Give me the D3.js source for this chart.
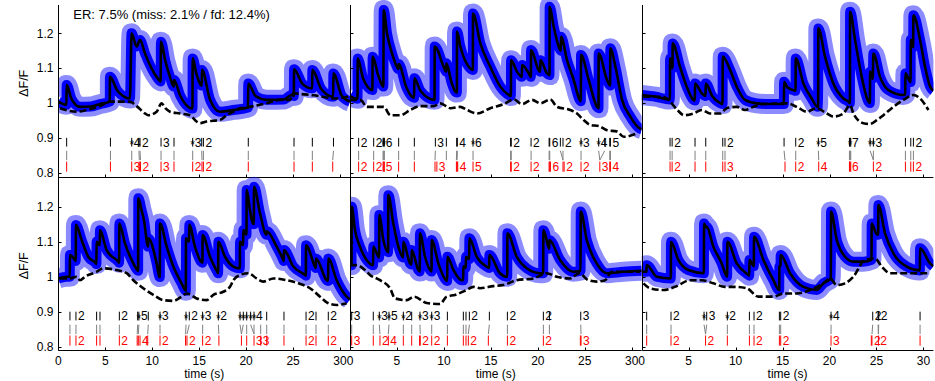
<!DOCTYPE html>
<html><head><meta charset="utf-8">
<script src="https://cdn.jsdelivr.net/npm/d3@7"></script>
<style>
body{margin:0;background:#fff}
svg{display:block}
text{font-family:"Liberation Sans",Arial,Helvetica,sans-serif}
</style>
</head><body>
<svg id="chart" width="935" height="381"></svg>
<script>
// ---------- tick labels ----------
const xTicks = [0, 5, 10, 15, 20, 25, 30];
const yTicks = [0.8, 0.9, 1.0, 1.1, 1.2];
const yTickLabels = ["0.8", "0.9", "1", "1.1", "1.2"];
const xLabel = "time (s)";
const yLabel = "\u0394F/F";
const errorText = "ER: 7.5% (miss: 2.1% / fd: 12.4%)";
const timeMax = 31.06;

// ---------- panel 1 (top-left) ----------
const fit1 = [[0,1.004],[0.87,0.995],[0.89,1.052],[1.4,1.012],[2.31,0.989],[3.5,0.99],[4.44,0.997],[5.48,1.004],[5.5,1.075],[6.3,1.035],[7.63,1.013],[7.8,1.2],[8.34,1.162],[8.7,1.181],[9.23,1.142],[10.47,1.075],[10.9,1.062],[10.93,1.176],[11.4,1.12],[11.89,1.075],[12.3,1.047],[12.32,1.066],[13.0,1.02],[14.09,0.985],[14.29,0.984],[14.31,1.128],[14.7,1.085],[15.28,1.05],[15.3,1.095],[16.15,1.01],[17.22,0.975],[18.64,0.98],[20.2,0.987],[20.23,1.056],[21.0,1.02],[22.19,1.009],[24.0,1.01],[24.85,1.023],[25.08,1.02],[25.1,1.097],[26.0,1.055],[27.03,1.042],[27.05,1.095],[28.0,1.04],[29.27,1.018],[29.29,1.085],[30.2,1.02],[31.06,1.004]];
const base1 = [[0.18,0.985],[1.95,0.975],[3.02,0.98],[4.44,0.991],[5.5,1.004],[7.63,1.004],[8.34,0.991],[9.23,0.97],[9.58,0.965],[10.47,0.975],[11.0,0.999],[11.4,0.985],[11.89,0.975],[12.96,0.97],[14.02,0.965],[14.73,0.947],[15.09,0.942],[15.8,0.947],[16.5,0.949],[17.22,0.951],[17.93,0.965],[18.64,0.975],[19.35,0.985],[20.06,0.987],[20.77,0.991],[22.19,0.999],[23.6,1.009],[24.67,1.009],[25.03,1.028],[25.74,1.026],[27.16,1.022],[28.58,1.016],[29.29,1.013],[30.88,1.018]];
const est1 = [[0.89,1],[5.55,1],[7.82,4,1],[8.59,1],[8.7,2],[10.94,3],[12.32,1],[14.31,3,1],[15.27,1],[15.45,2],[20.23,1],[25.1,1],[27.05,1],[29.3,1]];
const true1 = [[0.89,1],[5.55,1],[7.82,3],[8.62,1],[8.75,2],[10.94,3],[12.32,1],[14.31,2],[15.3,1],[15.45,2],[20.23,1],[25.1,1],[27.05,1],[29.22,1]];

// ---------- panel 2 (top-middle) ----------
const fit2 = [[0,1.02],[0.8,1.012],[0.82,1.128],[1.4,1.07],[2.39,1.037],[2.41,1.133],[3.0,1.08],[3.55,1.047],[3.59,1.267],[3.94,1.2],[4.5,1.14],[4.83,1.114],[5.16,1.098],[5.18,1.112],[6.0,1.045],[6.6,1.018],[6.83,1.015],[6.85,1.071],[7.5,1.035],[9.0,1.009],[9.02,1.162],[9.98,1.104],[10.24,1.09],[10.26,1.114],[10.8,1.06],[11.22,1.032],[11.38,1.03],[11.4,1.205],[11.75,1.162],[12.64,1.104],[13.08,1.095],[13.1,1.257],[13.88,1.171],[14.94,1.104],[16.01,1.047],[16.9,1.023],[17.13,1.02],[17.15,1.123],[17.78,1.09],[18.3,1.075],[18.32,1.109],[19.03,1.085],[19.26,1.075],[19.28,1.152],[20.09,1.094],[20.25,1.09],[20.27,1.123],[20.98,1.085],[21.24,1.08],[21.26,1.276],[21.69,1.219],[22.22,1.162],[22.45,1.15],[22.47,1.19],[23.11,1.123],[23.82,1.066],[24.46,1.009],[24.58,1.005],[24.6,1.138],[25.42,1.066],[26.3,0.989],[26.46,0.985],[26.48,1.142],[27.37,1.066],[27.7,1.05],[27.72,1.157],[28.26,1.104],[28.97,1.009],[29.85,0.961],[30.85,0.927],[31.06,0.925]];
const base2 = [[0,1.009],[1.1,1.009],[1.81,0.989],[3.59,0.989],[4.3,0.965],[5.36,0.965],[6.43,0.98],[7.49,0.991],[8.91,0.991],[9.62,0.999],[10.69,0.985],[11.75,0.989],[12.46,0.98],[13.53,0.97],[14.94,0.985],[16.36,0.997],[17.43,1.01],[18.32,0.997],[19.38,1.009],[20.27,0.999],[21.33,1.01],[22.04,0.989],[23.46,0.98],[24.17,0.97],[24.88,0.951],[25.59,0.937],[26.48,0.934],[27.37,0.922],[28.43,0.918],[29.15,0.903],[30.56,0.913]];
const est2 = [[0.92,2],[2.52,2],[3.52,1],[3.59,6,1],[3.66,1],[5.18,1],[6.85,1],[9.09,3],[10.26,1],[11.36,1],[11.43,4],[13.1,6,1],[17.1,1],[17.17,2],[19.28,2],[21.2,1],[21.27,6],[22.4,1],[22.68,2],[24.6,3,1],[26.48,4,1],[27.12,1],[27.66,1],[27.73,5]];
const true2 = [[0.92,2],[2.52,2],[3.52,1],[3.59,5],[3.66,1],[5.18,1],[6.85,1],[9.05,1],[9.25,3],[11.33,1],[11.4,1],[11.47,4],[13.1,5],[17.1,1],[17.17,2],[19.28,2],[21.2,1],[21.27,1],[21.34,6],[22.68,1],[22.8,2],[24.6,2],[26.6,3],[27.66,1],[27.73,4]];

// ---------- panel 3 (top-right) ----------
const fit3 = [[0,1.023],[1.5,1.018],[3.0,1.01],[3.02,1.128],[3.28,1.1],[3.3,1.171],[4.08,1.104],[4.79,1.047],[5.5,1.009],[5.66,1.007],[5.68,1.056],[6.39,1.028],[6.8,1.02],[6.82,1.056],[7.5,1.02],[8.41,0.999],[8.61,0.997],[8.63,1.133],[9.41,1.095],[10.12,1.047],[11.0,1.009],[12.25,0.999],[13.5,0.997],[15.14,0.997],[15.16,1.061],[15.5,1.045],[16.15,1.037],[16.38,1.035],[16.4,1.128],[17.22,1.056],[18.1,1.013],[18.74,0.989],[18.79,0.99],[18.81,1.214],[19.52,1.133],[20.41,1.056],[21.48,1.013],[22.01,1.004],[22.17,1.0],[22.19,1.262],[22.72,1.181],[23.43,1.075],[24.14,1.004],[24.3,1.0],[24.32,1.09],[24.6,1.07],[24.67,1.142],[25.38,1.075],[26.27,1.037],[27.87,1.023],[28.06,1.025],[28.08,1.085],[28.63,1.06],[28.65,1.181],[28.9,1.16],[28.93,1.252],[29.64,1.181],[30.17,1.104],[30.71,1.047],[31.06,1.035]];
const base3 = [[0.18,1.018],[2.31,1.018],[2.84,1.009],[3.8,0.98],[4.5,0.965],[5.5,0.97],[6.39,0.98],[7.28,0.97],[8.34,0.97],[9.05,0.985],[10.12,0.989],[11.0,0.98],[11.89,0.989],[12.96,0.997],[15.44,0.999],[16.51,0.989],[17.57,0.975],[18.64,0.985],[19.7,0.97],[20.41,0.961],[21.48,0.97],[22.19,0.994],[22.54,0.97],[23.61,0.942],[24.32,0.94],[25.03,0.951],[25.74,0.965],[26.81,0.989],[27.87,1.009],[28.93,1.023],[29.64,1.013],[30.53,0.98]];
const est3 = [[3.02,1],[3.24,2],[5.68,1],[6.82,1],[8.63,1],[8.87,2],[15.16,1],[16.4,2],[18.81,5,1],[22.12,1],[22.19,7,1],[22.26,1],[24.32,1,1],[24.67,3,1],[28.08,1],[28.65,1],[28.93,2]];
const true3 = [[3.02,1],[3.24,2],[5.68,1],[6.82,1],[8.63,1],[8.87,3],[15.26,1],[16.4,2],[18.85,4],[22.12,1],[22.19,6],[22.26,1],[24.67,2],[28.08,1],[28.65,1],[28.93,2]];

// ---------- panel 4 (bottom-left) ----------
const fit4 = [[0,0.995],[0.89,1.0],[1.22,1.0],[1.24,1.062],[1.77,1.048],[1.86,1.045],[1.88,1.148],[2.48,1.105],[3.19,1.057],[4.01,1.038],[4.06,1.036],[4.08,1.1],[4.42,1.09],[4.44,1.133],[5.15,1.076],[6.39,1.043],[6.48,1.04],[6.5,1.152],[7.1,1.095],[7.81,1.048],[8.41,1.019],[8.5,1.017],[8.52,1.224],[8.87,1.19],[9.12,1.162],[9.56,1.086],[9.58,1.11],[10.47,1.038],[10.76,1.0],[10.81,0.999],[10.83,1.152],[11.54,1.086],[12.25,1.029],[13.13,0.981],[13.49,0.962],[13.58,0.96],[13.6,1.11],[13.93,1.1],[13.95,1.148],[14.55,1.086],[15.19,1.043],[15.35,1.04],[15.37,1.119],[16.15,1.057],[16.93,1.014],[17.02,1.01],[17.04,1.1],[17.75,1.057],[18.64,1.029],[19.33,1.024],[19.35,1.1],[19.68,1.09],[19.7,1.133],[20.04,1.12],[20.06,1.248],[20.41,1.19],[20.59,1.162],[20.82,1.15],[20.84,1.257],[21.48,1.181],[22.17,1.12],[22.19,1.13],[23.25,1.086],[23.96,1.048],[24.01,1.045],[24.03,1.076],[25.03,1.029],[26.27,1.005],[26.36,1.003],[26.38,1.09],[27.33,1.029],[27.42,1.025],[27.44,1.052],[28.58,0.99],[28.73,0.988],[28.75,1.052],[29.64,0.99],[30.71,0.943],[31.06,0.935]];
const base4 = [[0.18,0.995],[1.24,0.995],[1.95,1.0],[2.31,0.99],[2.84,1.0],[4.08,1.014],[4.79,1.024],[6.21,1.019],[7.28,1.01],[7.99,0.99],[9.05,0.967],[10.12,0.948],[11.18,0.933],[12.25,0.931],[13.13,0.943],[13.67,0.952],[14.73,0.938],[15.8,0.933],[16.51,0.948],[17.57,0.957],[18.28,0.971],[18.64,0.99],[19.35,1.005],[20.24,1.01],[21.12,0.995],[21.83,0.986],[22.9,0.995],[24.32,0.99],[25.56,0.981],[26.8,0.967],[27.87,0.943],[28.75,0.924],[29.64,0.919],[30.71,0.924]];
const est4 = [[1.24,1],[1.88,2],[4.08,1],[4.44,1],[6.5,2],[8.45,1],[8.58,5,1],[9.58,1],[10.83,3,1],[13.6,1,1],[13.95,2],[15.37,3,1],[17.04,2,1],[19.35,1,1],[19.7,1,1],[20.06,1,1],[20.48,1,1],[20.84,4,1],[22.19,1],[24.03,1],[26.38,2],[27.44,1],[28.75,2]];
const true4 = [[1.24,1],[1.88,2],[4.08,1],[4.44,1],[6.5,2],[8.4,1],[8.52,1],[8.7,4],[9.52,1],[10.83,2],[13.55,1],[13.7,2],[15.37,2],[17.1,1],[19.5,1],[20.06,1],[20.84,3],[21.55,3],[22.19,1],[24.03,1],[26.38,2],[27.44,1],[28.75,2]];

// ---------- panel 5 (bottom-middle) ----------
const fit5 = [[0,1.033],[0.16,1.033],[0.18,1.2],[0.53,1.133],[1.06,1.086],[1.77,1.048],[2.46,1.033],[2.48,1.086],[3.02,1.057],[3.1,1.055],[3.12,1.176],[3.55,1.105],[4.06,1.07],[4.08,1.233],[4.61,1.152],[5.15,1.086],[5.66,1.055],[5.68,1.1],[6.39,1.038],[6.55,1.035],[6.57,1.076],[7.28,1.019],[7.43,1.015],[7.45,1.124],[7.99,1.057],[8.52,1.019],[8.68,1.015],[8.7,1.105],[9.41,1.038],[10.22,0.99],[10.35,0.988],[10.37,1.057],[11.0,1.02],[11.89,0.99],[12.05,0.99],[12.07,1.03],[12.33,1.025],[12.35,1.057],[12.69,1.05],[12.71,1.11],[13.49,1.057],[14.55,1.029],[14.82,1.025],[14.84,1.062],[15.97,1.01],[16.74,1.0],[16.76,1.124],[17.75,1.057],[18.81,1.024],[20.23,1.01],[20.57,1.01],[20.59,1.133],[21.12,1.086],[21.21,1.08],[21.23,1.105],[22.37,1.048],[23.78,1.014],[24.55,1.017],[24.57,1.186],[25.21,1.105],[26.27,1.038],[27.33,1.01],[29.11,1.014],[31.06,1.017]];
const base5 = [[0,1.033],[0.71,1.033],[1.6,1.019],[2.13,1.005],[3.19,0.99],[4.26,0.967],[4.79,0.938],[6.03,0.933],[6.82,0.943],[8.16,0.925],[9.58,0.922],[10.29,0.943],[11.18,0.948],[12.42,0.962],[13.13,0.971],[13.84,0.967],[15.26,0.973],[16.33,0.976],[17.75,0.99],[19.52,0.995],[20.94,1.01],[22.01,1.0],[23.43,0.995],[24.42,1.01],[25.38,0.99],[26.27,0.986],[27.16,0.99],[27.87,1.014],[30.88,1.014]];
const est5 = [[0.18,3],[2.48,1],[3.12,3,1],[4.15,5,1],[5.68,2,1],[6.57,1],[7.45,3,1],[8.7,3,1],[10.37,1],[12.07,1],[12.35,1],[12.71,2],[14.84,1],[16.76,2],[20.59,2],[21.23,1],[24.57,3]];
const true5 = [[0.18,3],[2.48,1],[3.19,2],[4.08,4],[5.68,1],[6.57,1],[7.41,1],[7.48,2],[8.7,2],[10.37,1],[12.07,1],[12.35,1],[12.6,2],[14.73,1],[16.76,2],[20.59,2],[24.53,1],[24.6,3]];

// ---------- panel 6 (bottom-right) ----------
const fit6 = [[0,1.014],[0.51,1.014],[0.53,1.033],[1.6,1.0],[3.1,0.995],[3.12,1.1],[3.9,1.048],[4.97,1.019],[6.62,1.01],[6.64,1.152],[6.9,1.14],[6.92,1.143],[7.63,1.086],[8.52,1.038],[9.1,1.0],[9.12,1.1],[10.12,1.038],[11.36,1.005],[11.45,1.003],[11.47,1.048],[11.94,1.03],[11.96,1.114],[12.96,1.048],[14.02,0.99],[14.64,0.962],[14.66,1.029],[14.78,1.03],[14.8,1.062],[15.8,1.01],[17.22,0.971],[18.64,0.962],[19.35,0.981],[20.14,0.995],[20.16,1.186],[20.77,1.105],[21.65,1.057],[22.54,1.043],[23.61,1.043],[24.47,1.048],[24.49,1.152],[24.96,1.124],[25.18,1.12],[25.2,1.205],[25.91,1.124],[26.8,1.067],[28.22,1.029],[29.62,1.018],[29.64,1.081],[30.71,1.038],[31.06,1.03]];
const base6 = [[0.18,0.981],[0.89,0.967],[2.31,0.962],[3.55,0.971],[5.15,0.99],[6.39,0.99],[7.63,0.981],[8.87,0.971],[9.94,0.971],[11.18,0.967],[12.42,0.943],[14.02,0.943],[15.09,0.952],[16.5,0.952],[17.93,0.962],[19.35,0.981],[20.06,0.995],[20.77,0.976],[21.65,0.981],[22.54,1.0],[23.78,1.048],[24.85,1.052],[25.56,1.029],[26.45,1.01],[28.22,1.01],[30.71,1.01]];
const est6 = [[0.53,1],[3.12,2],[6.64,1,1],[6.92,3],[9.12,2,1],[11.47,1],[11.96,2],[14.66,1],[14.8,2],[20.16,4,1],[24.6,2],[25.17,1],[25.24,2],[29.64,1]];
const true6 = [[0.53,1],[3.12,2],[6.8,2],[9.12,1],[11.47,1],[11.96,2],[14.66,1],[14.8,2],[20.16,3],[24.45,1],[24.52,2],[25.2,2],[29.64,1]];

// ---------- layout ----------
const panels = [
  {fit: fit1, base: base1, est: est1, tru: true1, col: 0, row: 0},
  {fit: fit2, base: base2, est: est2, tru: true2, col: 1, row: 0},
  {fit: fit3, base: base3, est: est3, tru: true3, col: 2, row: 0},
  {fit: fit4, base: base4, est: est4, tru: true4, col: 0, row: 1},
  {fit: fit5, base: base5, est: est5, tru: true5, col: 1, row: 1},
  {fit: fit6, base: base6, est: est6, tru: true6, col: 2, row: 1}
];
const colX = [58.3, 350, 641.7];
const panelW = 291.7;
const rows = [
  {top: 5, bot: 176.7, y08: 172.7, y12: 33.3, labelY: 83.3},
  {top: 176.7, bot: 350, y08: 346.7, y12: 206.7, labelY: 265.8}
];

const svg = d3.select("#chart");
const defs = svg.append("defs");
const FONT = 12;

panels.forEach((p, i) => {
  const r = rows[p.row];
  const x0 = colX[p.col];
  const x = d3.scaleLinear().domain([0, timeMax]).range([x0, x0 + panelW]);
  const y = d3.scaleLinear().domain([0.8, 1.2]).range([r.y08, r.y12]);

  defs.append("clipPath").attr("id", "clip" + i)
    .append("rect").attr("x", x0).attr("y", r.top - 10)
    .attr("width", panelW).attr("height", r.bot - r.top + 10);
  const g = svg.append("g");
  const gc = g.append("g").attr("clip-path", `url(#clip${i})`);

  const line = d3.line().x(d => x(d[0])).y(d => y(d[1])).curve(d3.curveMonotoneX);

  // measured trace: sparse outer noise fringe + dense core
  gc.append("path").datum(p.fit).attr("d", line)
    .attr("fill", "none").attr("stroke", "#0000ff").attr("stroke-opacity", 0.45)
    .attr("stroke-width", 20).attr("stroke-linejoin", "round");
  gc.append("path").datum(p.fit).attr("d", line)
    .attr("fill", "none").attr("stroke", "#0000ff")
    .attr("stroke-width", 10).attr("stroke-linejoin", "round");
  // baseline (dashed)
  gc.append("path").datum(p.base).attr("d", line)
    .attr("fill", "none").attr("stroke", "#000")
    .attr("stroke-width", 2.6).attr("stroke-dasharray", "7,3");
  // fit
  gc.append("path").datum(p.fit).attr("d", line)
    .attr("fill", "none").attr("stroke", "#000").attr("stroke-width", 2.6);

  // grey connectors
  const greyLinks = [];
  p.est.forEach(e => {
    let best = null, bd = 0.6;
    p.tru.forEach(t => { const d = Math.abs(t[0] - e[0]); if (d < bd) { bd = d; best = t; } });
    greyLinks.push([e[0], best ? best[0] : e[0]]);
  });
  p.tru.forEach(t => {
    const near = p.est.some(e => Math.abs(e[0] - t[0]) < 0.6);
    if (!near) greyLinks.push([t[0], t[0]]);
  });
  g.selectAll(null).data(greyLinks).join("line")
    .attr("x1", d => x(d[0])).attr("x2", d => x(d[1]))
    .attr("y1", y(0.863)).attr("y2", y(0.836))
    .attr("stroke", "#808080").attr("stroke-width", 1);

  // estimated spikes (black)
  g.selectAll(null).data(p.est).join("line")
    .attr("x1", d => x(d[0])).attr("x2", d => x(d[0]))
    .attr("y1", y(0.9)).attr("y2", y(0.875))
    .attr("stroke", "#000").attr("stroke-width", 1);
  g.selectAll(null).data(p.est.filter(d => d[1] > 1)).join("text")
    .attr("x", d => x(d[0]) + 2).attr("y", y(0.8875)).attr("dy", "0.36em")
    .attr("font-size", FONT).attr("fill", "#000").text(d => d[1]);
  g.selectAll(null).data(p.est.filter(d => d[2])).join("text")
    .attr("x", d => x(d[0])).attr("y", y(0.8875) + 7)
    .attr("text-anchor", "middle").attr("font-size", FONT).attr("fill", "#000").text("*");

  // true spikes (red)
  g.selectAll(null).data(p.tru).join("line")
    .attr("x1", d => x(d[0])).attr("x2", d => x(d[0]))
    .attr("y1", y(0.832)).attr("y2", y(0.803))
    .attr("stroke", "#ff0000").attr("stroke-width", 1);
  g.selectAll(null).data(p.tru.filter(d => d[1] > 1)).join("text")
    .attr("x", d => x(d[0]) + 2).attr("y", y(0.8165)).attr("dy", "0.36em")
    .attr("font-size", FONT).attr("fill", "#ff0000").text(d => d[1]);

  // axes lines
  const lx = Math.round(x0) + 0.5, by = Math.round(r.bot) + 0.5;
  g.append("line").attr("x1", lx).attr("x2", lx).attr("y1", r.top).attr("y2", by)
    .attr("stroke", "#000").attr("stroke-width", 1);
  g.append("line").attr("x1", lx).attr("x2", x0 + panelW).attr("y1", by).attr("y2", by)
    .attr("stroke", "#000").attr("stroke-width", 1);
  g.selectAll(null).data(yTicks).join("line")
    .attr("x1", lx).attr("x2", lx + 3)
    .attr("y1", d => Math.round(y(d)) + 0.5).attr("y2", d => Math.round(y(d)) + 0.5)
    .attr("stroke", "#000");
  g.selectAll(null).data(xTicks).join("line")
    .attr("x1", d => Math.round(x(d)) + 0.5).attr("x2", d => Math.round(x(d)) + 0.5)
    .attr("y1", by).attr("y2", by - 3)
    .attr("stroke", "#000");

  if (p.col === 0) {
    g.selectAll(null).data(yTicks).join("text")
      .attr("x", 53.5).attr("y", d => y(d)).attr("dy", "0.36em")
      .attr("text-anchor", "end").attr("font-size", FONT)
      .text((d, k) => yTickLabels[k]);
    g.append("text").attr("transform", `translate(27.5,${r.labelY}) rotate(-90)`)
      .attr("text-anchor", "middle").attr("font-size", 12.5).text(yLabel);
  }
  if (p.row === 1) {
    g.selectAll(null).data(xTicks).join("text")
      .attr("x", d => x(d)).attr("y", 365.3)
      .attr("text-anchor", "middle").attr("font-size", FONT).text(d => d);
    g.append("text").attr("x", x0 + panelW / 2).attr("y", 378)
      .attr("text-anchor", "middle").attr("font-size", FONT).text(xLabel);
  }
  if (i === 0) {
    g.append("text").attr("x", 73.3).attr("y", 19).attr("font-size", 13).text(errorText);
  }
});
</script>
</body></html>
